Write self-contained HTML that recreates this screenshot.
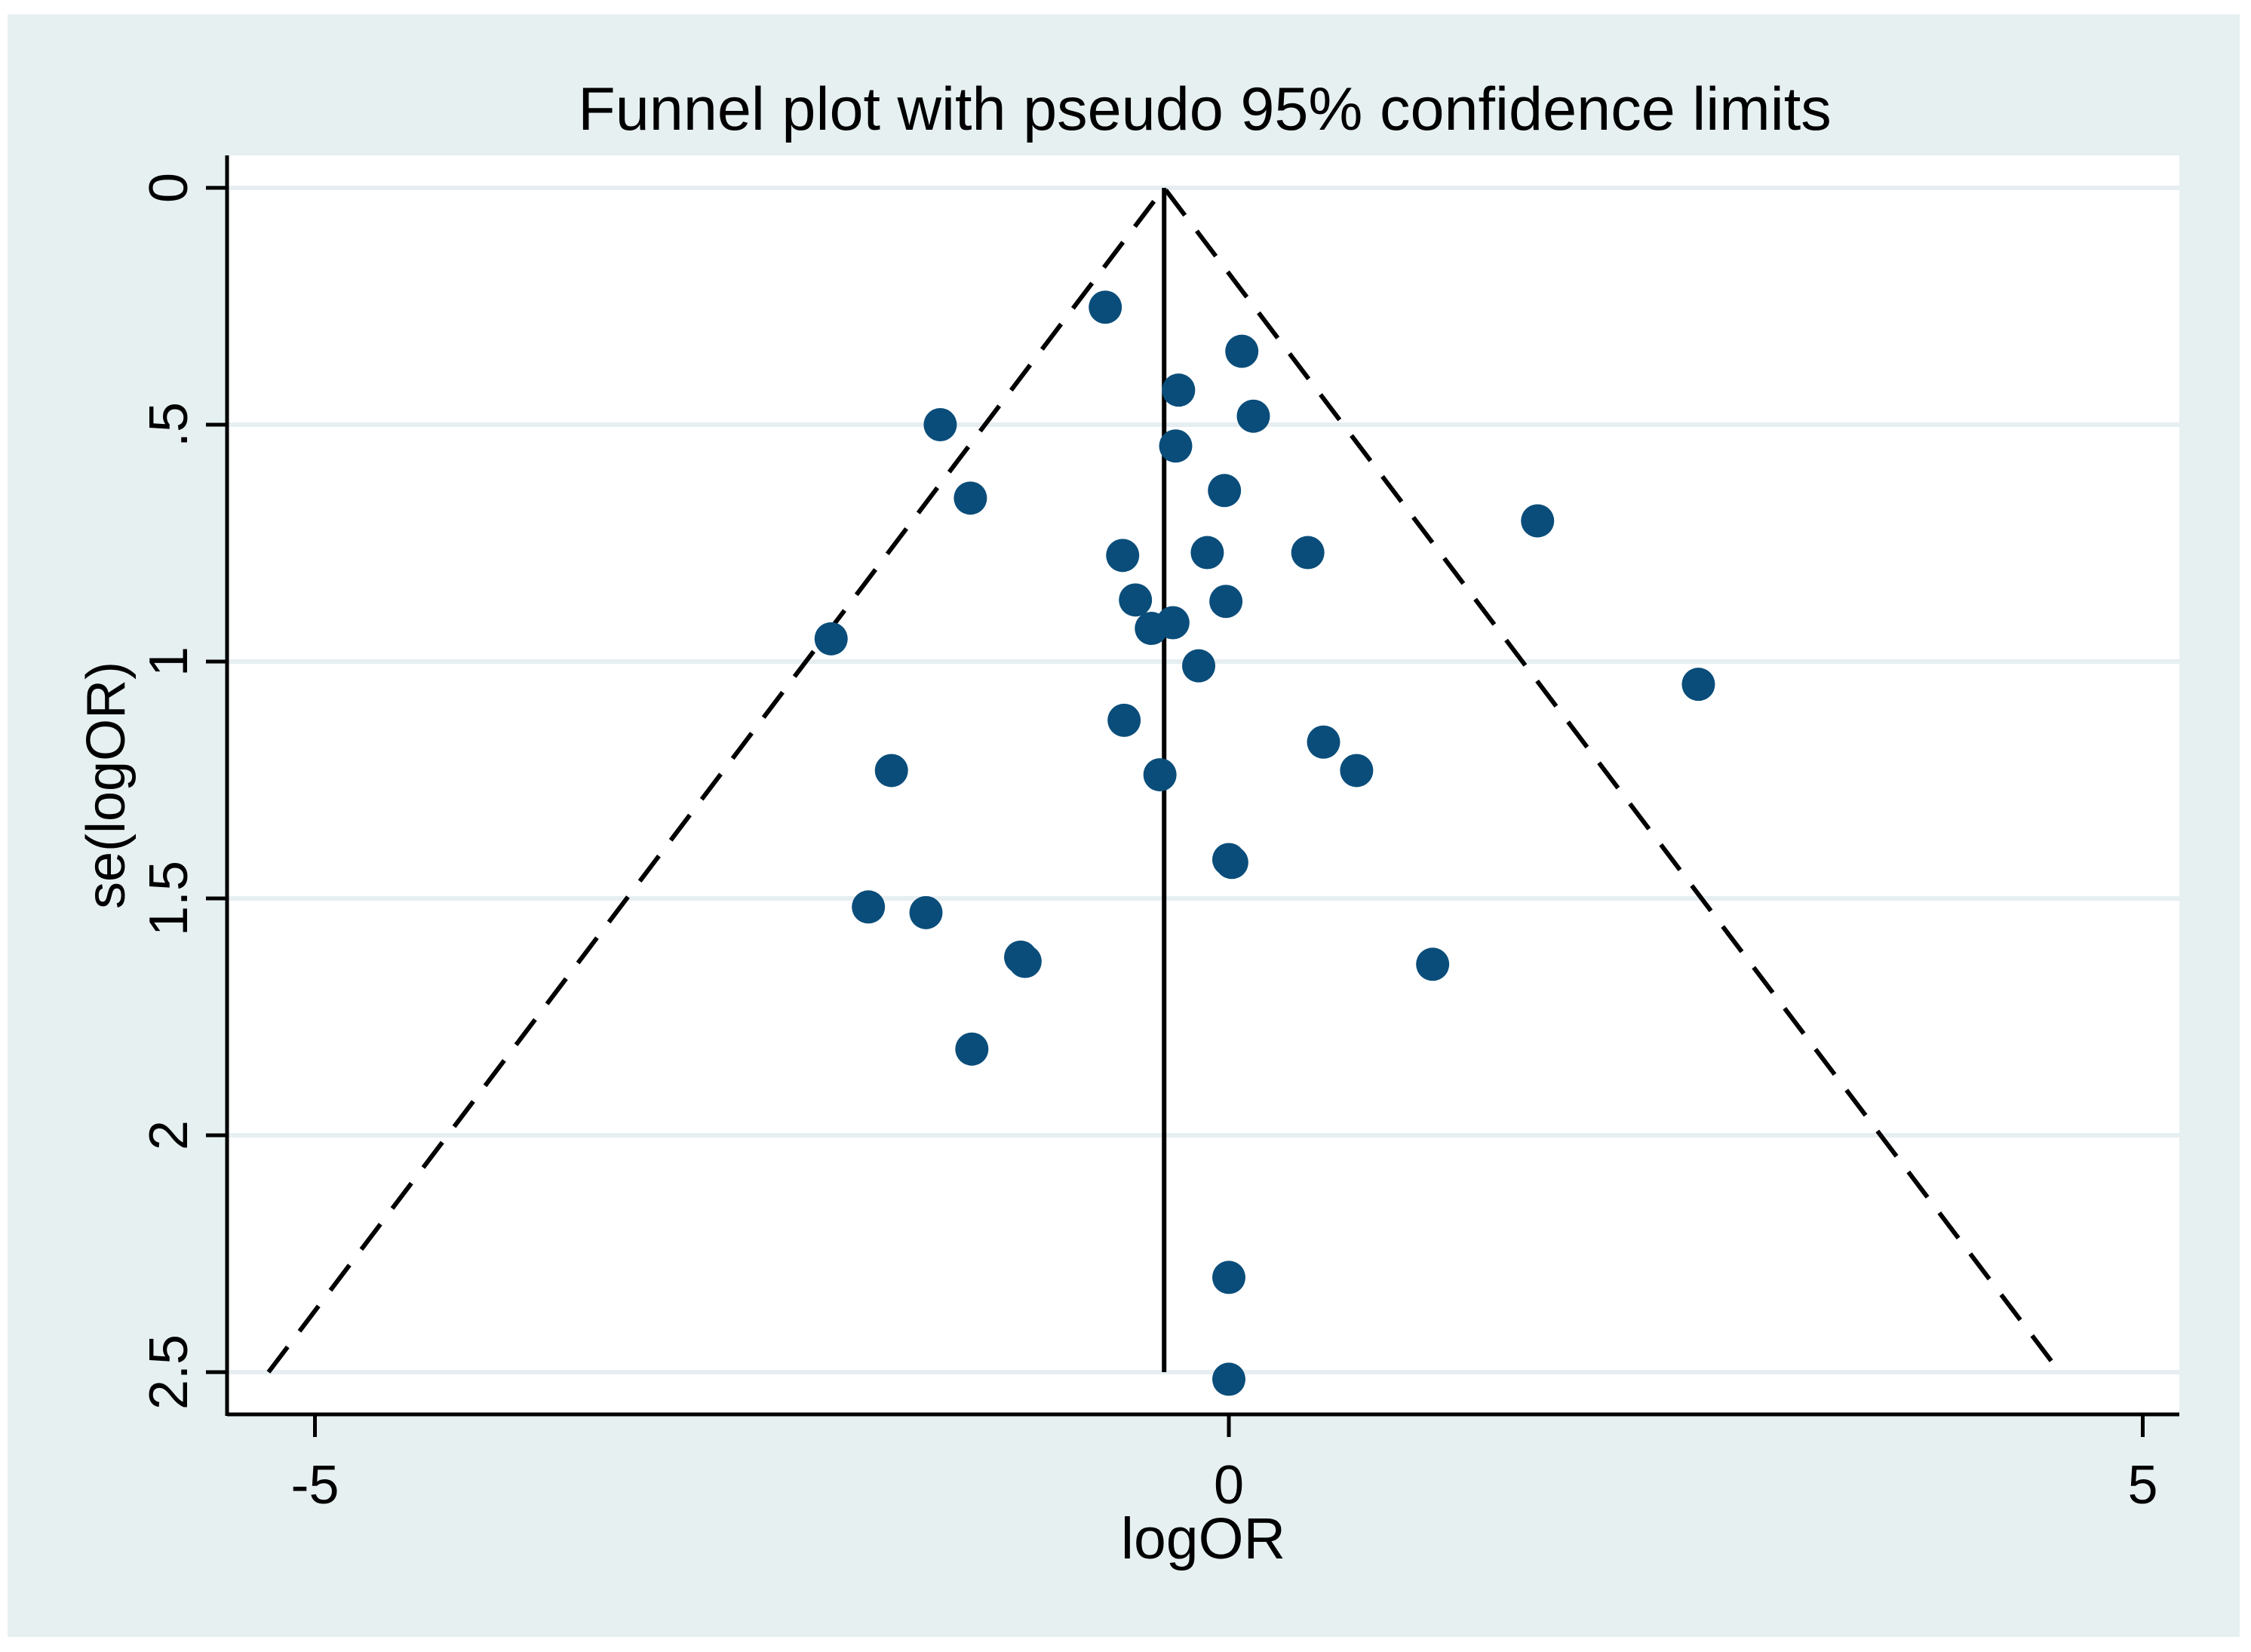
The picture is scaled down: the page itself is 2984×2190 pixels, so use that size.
<!DOCTYPE html>
<html><head><meta charset="utf-8"><style>
html,body{margin:0;padding:0;background:#fff;}
svg{display:block;font-family:"Liberation Sans",Arial,sans-serif;}
</style></head><body>
<svg id="chart" width="2984" height="2190" viewBox="0 0 2984 2190" xmlns="http://www.w3.org/2000/svg">
<rect x="10" y="19" width="2959" height="2151" fill="#e6f0f1"/>
<rect x="301" y="206" width="2588" height="1669" fill="#ffffff"/>
<text x="1597" y="172" font-size="81" text-anchor="middle" fill="#000">Funnel plot with pseudo 95% confidence limits</text>
<g id="grid"></g>
<g id="funnel"></g>
<g id="points"></g>
<line x1="301" y1="1875" x2="2889" y2="1875" stroke="#000" stroke-width="5"/>
<line x1="301" y1="206" x2="301" y2="1877" stroke="#000" stroke-width="5"/>
<g id="axes"></g>
<text x="1595" y="2066" font-size="77" text-anchor="middle" fill="#000">logOR</text>
<text x="0" y="0" font-size="72" text-anchor="middle" fill="#000" transform="translate(165,1041) rotate(-90)">se(logOR)</text>
</svg>
<script>
const logOR = [-0.676,0.071,-0.275,-1.579,0.134,-0.291,-1.414,-0.024,1.689,-0.581,-0.118,0.432,-0.511,-0.016,-2.176,-0.424,-0.306,-0.165,2.569,-0.573,0.518,0.699,-1.846,-0.377,0,0.016,-1.972,-1.657,-1.139,-1.115,1.115,-1.406,0,0];
const seLogOR = [0.252,0.345,0.427,0.5,0.482,0.545,0.655,0.639,0.703,0.776,0.770,0.770,0.870,0.873,0.952,0.930,0.918,1.009,1.048,1.124,1.170,1.230,1.230,1.239,1.418,1.424,1.518,1.530,1.624,1.633,1.639,1.818,2.3,2.515];
const pooledEstimate = [-0.354];
const xTicks = [-5,0,5];
const yTicks = [0,0.5,1,1.5,2,2.5];
const yTickLabels = ["0",".5","1","1.5","2","2.5"];
const maxSE = [2.5];

const NS="http://www.w3.org/2000/svg";
function X(v){return 1629 + v*242.3;}
function Y(v){return 249 + v*628;}
function mk(tag,attrs,parent){const e=document.createElementNS(NS,tag);for(const k in attrs)e.setAttribute(k,attrs[k]);parent.appendChild(e);return e;}
const grid=document.getElementById('grid'),axes=document.getElementById('axes'),fun=document.getElementById('funnel'),pts=document.getElementById('points');

yTicks.forEach((t,i)=>{
  const g=mk('line',{x1:303,x2:2889,y1:Y(t),y2:Y(t),stroke:'#e6eef1','stroke-width':6},grid);
  
  
  const tk=mk('line',{x1:273,x2:301,y1:Y(t),y2:Y(t),stroke:'#000','stroke-width':5},axes);
  
  
  const tx=mk('text',{x:0,y:0,'font-size':72,'text-anchor':'middle',fill:'#000',transform:'translate(248,'+Y(t)+') rotate(-90)'},axes);
  tx.textContent=yTickLabels[i];
  
  
});
xTicks.forEach(t=>{
  const tk=mk('line',{x1:X(t),x2:X(t),y1:1875,y2:1905,stroke:'#000','stroke-width':5},axes);
  
  
  const tx=mk('text',{x:X(t),y:1993,'font-size':72,'text-anchor':'middle',fill:'#000'},axes);
  tx.textContent=String(t);
  
  
});

const c=pooledEstimate[0],m=maxSE[0];
const fl=mk('polyline',{points:X(c-1.96*m)+','+Y(m)+' '+X(c)+','+Y(0)+' '+X(c+1.96*m)+','+Y(m),fill:'none',stroke:'#000','stroke-width':6,'stroke-dasharray':'42 26'},fun);


const vl=mk('line',{x1:X(c),x2:X(c),y1:Y(0),y2:Y(m),stroke:'#000','stroke-width':6},fun);



logOR.forEach((v,i)=>{
  const p=mk('circle',{cx:X(v),cy:Y(seLogOR[i]),r:22,fill:'#0a4d7a'},pts);
  
  
});
</script>
</body></html>
